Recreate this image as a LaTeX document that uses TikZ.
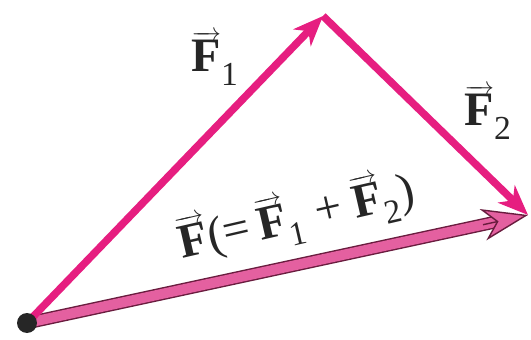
\documentclass[tikz,border=0pt]{standalone}
\usepackage{amsmath}
\usepackage{fontspec}
\setmainfont{Liberation Serif}
\usepackage{xcolor}
\usetikzlibrary{positioning, arrows.meta, calc}

\definecolor{forcemag}{RGB}{230,30,128}
\definecolor{sumpink}{RGB}{228,96,160}
\definecolor{sumedge}{RGB}{105,28,62}
\definecolor{labelgray}{RGB}{38,38,38}

\newcommand{\vF}{\ensuremath{\overrightarrow{\textbf{F}}}}

\begin{document}
\begin{tikzpicture}[
    x=1pt, y=-1pt,
    force/.style={forcemag, line width=7.5pt, -{Stealth[length=30pt, width=24pt, inset=9pt]}},
    sumshaft/.style={draw=sumedge, line width=1.4pt, double=sumpink, double distance=10pt, shorten >=30pt},
    sumhead/.style={draw=sumedge, line width=1.4pt, -{Stealth[length=46pt, width=32pt, inset=14pt, fill=sumpink]}},
    origin/.style={circle, fill=black!85, minimum size=20pt, inner sep=0pt},
    flabel/.style={text=labelgray, font=\fontsize{48}{56}\selectfont}
]
\useasboundingbox (0,0) rectangle (531,340);

% точки треугольника
\coordinate (O) at (27,323);
\coordinate (A) at (323,16);
\coordinate (B) at (528,215);

% равнодействующая
\draw[sumshaft] (O) -- (B);
\draw[sumhead] ($(B)!46pt!(O)$) -- (B);

% слагаемые силы
\draw[force] (O) -- (A);
\draw[force] (A) -- (B);

\node[origin] (dot) at (O) {};

% подписи
\node[flabel] (f1) at (215,58) {\vF$_{\text{1}}$};
\node[flabel] (f2) at (488,112) {\vF$_{\text{2}}$};
\node[flabel, rotate=13] (fsum) at (297,218) {\vF(=\,\vF$_{\text{1}}$ + \vF$_{\text{2}}$)};

\end{tikzpicture}
\end{document}
